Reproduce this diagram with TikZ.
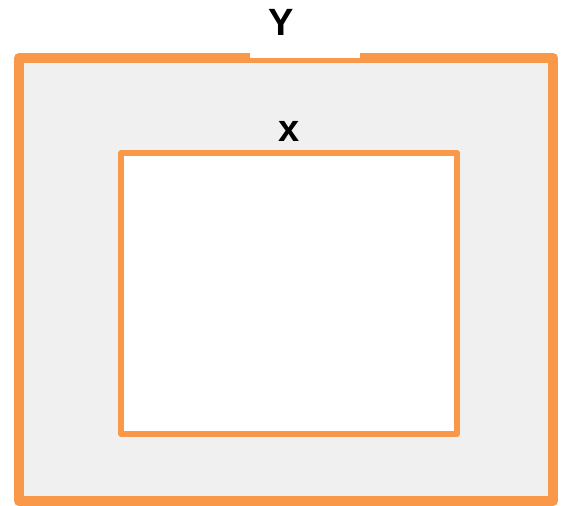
\documentclass[tikz,border=0pt]{standalone}
\usepackage{fontspec}
\setmainfont{Liberation Sans}
\definecolor{borange}{RGB}{248,152,72}
\definecolor{bgray}{RGB}{240,240,240}
\tikzset{
  outerbox/.style={draw=borange, fill=bgray, line width=10pt, line join=round},
  innerbox/.style={draw=borange, fill=white, line width=5.5pt, line join=round},
  lbl/.style={font=\fontsize{38}{40}\selectfont\bfseries, inner sep=0pt, text=black}
}
\begin{document}
\begin{tikzpicture}[x=1pt,y=-1pt]
\useasboundingbox (0,0) rectangle (568,506);
\draw[outerbox] (19,58) rectangle (553,501);
\fill[white] (250,0) rectangle (360,58);
\draw[innerbox] (121,153) rectangle (457,434);
\node[lbl] (ylab) at (281,22) {Y};
\node[lbl] (xlab) at (289,131) {x};
\end{tikzpicture}
\end{document}
